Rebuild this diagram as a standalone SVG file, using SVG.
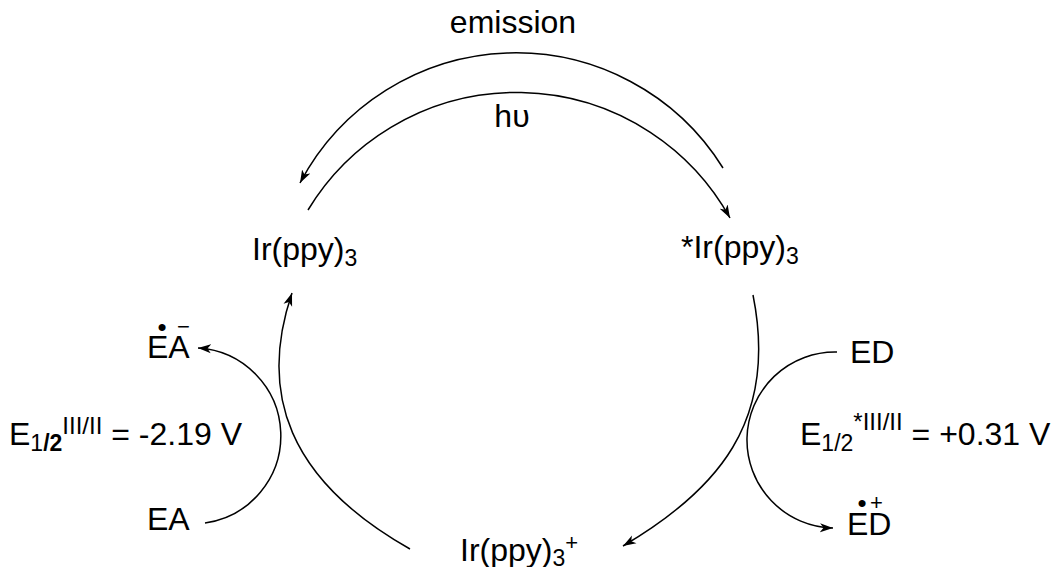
<svg xmlns="http://www.w3.org/2000/svg" width="1058" height="567" viewBox="0 0 1058 567">
  <style>
    text { font-family: "Liberation Sans", Arial, sans-serif; fill: #000; }
    .lbl { font-size: 32px; }
    .sm { font-size: 23px; }
    .sup { font-size: 24px; }
    .mark { font-size: 22px; }
    .dot { font-size: 26px; }
    .arc { fill: none; stroke: #000; stroke-width: 1.5; }
  </style>
  <defs>
    <marker id="arrow" markerWidth="14" markerHeight="10" refX="13" refY="5" orient="auto" markerUnits="userSpaceOnUse">
      <path d="M13,5 L0,0.5 L3.5,5 L0,9.5 Z" fill="#000"/>
    </marker>
  </defs>

  <!-- connectors -->
  <g id="connectors">
    <!-- emission: excited state back to ground state -->
    <path class="arc" d="M723,168 A244,244 0 0 0 300,183" marker-end="url(#arrow)"/>
    <!-- photoexcitation -->
    <path class="arc" d="M308,210 A244,244 0 0 1 730,218" marker-end="url(#arrow)"/>
    <!-- oxidative quenching: excited state to Ir(IV) -->
    <path class="arc" d="M753,295 C778.5,422 716.5,491 623,546" marker-end="url(#arrow)"/>
    <!-- reduction back to ground state -->
    <path class="arc" d="M410,549 C288,480 258,393 292,293" marker-end="url(#arrow)"/>
    <!-- acceptor reduction -->
    <path class="arc" d="M205,523 A88,88 0 0 0 198,348" marker-end="url(#arrow)"/>
    <!-- donor oxidation -->
    <path class="arc" d="M837,352 A88,88 0 0 0 833,528" marker-end="url(#arrow)"/>
  </g>

  <g id="emission-label">
    <text class="lbl" x="513" y="33" text-anchor="middle">emission</text>
  </g>
  <g id="hv-label">
    <text class="lbl" x="512" y="127" text-anchor="middle">hυ</text>
  </g>

  <g id="ground-state">
    <text class="lbl" x="252" y="260">Ir(ppy)<tspan class="sm" dy="6">3</tspan></text>
  </g>
  <g id="excited-state">
    <text class="lbl" x="681" y="258">*Ir(ppy)<tspan class="sm" dy="6">3</tspan></text>
  </g>
  <g id="oxidized-state">
    <text class="lbl" x="460" y="561">Ir(ppy)<tspan class="sm" dy="5">3</tspan><tspan class="mark" dy="-16">+</tspan></text>
  </g>

  <!-- radical anion: dot over E, charge over A -->
  <g id="acceptor-radical">
    <text class="lbl" x="147" y="358">EA</text>
    <text><tspan class="dot" x="157.5" y="336">•</tspan><tspan class="mark" x="177" y="334">−</tspan></text>
  </g>
  <g id="acceptor">
    <text class="lbl" x="147" y="530">EA</text>
  </g>
  <g id="donor">
    <text class="lbl" x="850" y="363">ED</text>
  </g>
  <!-- radical cation: dot over E, charge beside it -->
  <g id="donor-radical">
    <text class="lbl" x="847" y="535">ED</text>
    <text><tspan class="dot" x="857.5" y="512">•</tspan><tspan class="mark" x="870" y="510">+</tspan></text>
  </g>

  <g id="potential-reduction">
    <text class="lbl" x="9" y="445">E<tspan class="sm" dy="6">1<tspan font-weight="bold">/2</tspan></tspan><tspan class="sup" dy="-17">III/II</tspan><tspan dy="11"> = -2.19 V</tspan></text>
  </g>
  <g id="potential-oxidation">
    <text class="lbl" x="800" y="445">E<tspan class="sm" dy="6">1/2</tspan><tspan class="sup" dy="-21">*III/II</tspan><tspan dy="15"> = +0.31 V</tspan></text>
  </g>
</svg>
